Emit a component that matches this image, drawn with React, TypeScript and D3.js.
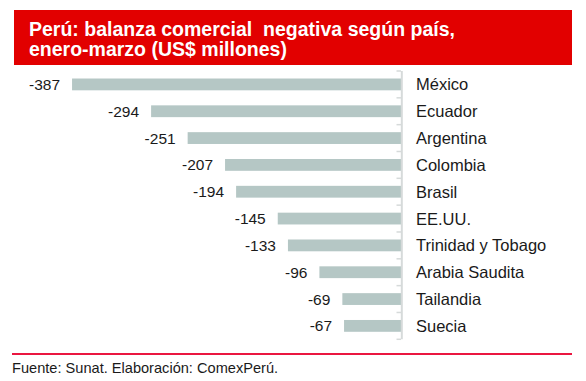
import React from "react";
import * as d3 from "d3";

const categories = ["México", "Ecuador", "Argentina", "Colombia", "Brasil", "EE.UU.", "Trinidad y Tobago", "Arabia Saudita", "Tailandia", "Suecia"];
const values = [-387, -294, -251, -207, -194, -145, -133, -96, -69, -67];
const titleLines = ["Perú: balanza comercial  negativa según país,", "enero-marzo (US$ millones)"];
const sourceText = "Fuente: Sunat. Elaboración: ComexPerú.";

const W = 586;
const H = 381;
const FONT = "'Liberation Sans', Arial, Helvetica, sans-serif";

export default function App() {
  const x = d3.scaleLinear().domain([-400, 0]).range([61, 401]);
  const y = d3.scaleBand<string>().domain(categories).range([71, 339.3]).paddingInner(0).paddingOuter(0);
  const step = y.bandwidth();
  const barH = step * 0.44;
  const barOff = step * 0.28;
  const tickYs = categories.map((c) => y(c) as number).concat([y.range()[1]]);
  const fmt = (v: number) => d3.format("d")(v).replace("\u2212", "-");

  return (
    <svg
      width={W}
      height={H}
      style={{ position: "absolute", left: 0, top: 0, display: "block", background: "#fff" }}
      fontFamily={FONT}
    >
      <rect x={14} y={10} width={558} height={55} fill="#e20000" />
      {titleLines.map((t, i) => (
        <text
          key={i}
          x={29}
          y={35.7 + i * 20.5}
          fill="#fff"
          fontSize={19.5}
          fontWeight="bold"
          style={{ whiteSpace: "pre" }}
        >
          {t}
        </text>
      ))}

      {categories.map((c, i) => {
        const v = values[i];
        const y0 = (y(c) as number) + barOff;
        return (
          <g key={c}>
            <rect x={x(v)} y={y0} width={x(0) - x(v)} height={barH} fill="#b5c7c5" />
            <text
              x={x(v) - 12}
              y={y0 + barH / 2}
              dy="0.36em"
              textAnchor="end"
              fontSize={15.5}
              fill="#1a1a1a"
            >
              {fmt(v)}
            </text>
            <text x={416} y={y0 + barH / 2} dy="0.36em" fontSize={16.5} fill="#1a1a1a">
              {c}
            </text>
          </g>
        );
      })}

      <line x1={401.8} x2={401.8} y1={tickYs[0]} y2={tickYs[tickYs.length - 1]} stroke="#d6dada" strokeWidth={2} />
      {tickYs.map((ty, i) => (
        <line key={i} x1={396.5} x2={401} y1={ty} y2={ty} stroke="#d6dada" strokeWidth={1.5} />
      ))}

      <line x1={12} x2={572} y1={354} y2={354} stroke="#ea1640" strokeWidth={2} />
      <text x={12} y={373.3} fontSize={14.6} fill="#1a1a1a">
        {sourceText}
      </text>
    </svg>
  );
}
